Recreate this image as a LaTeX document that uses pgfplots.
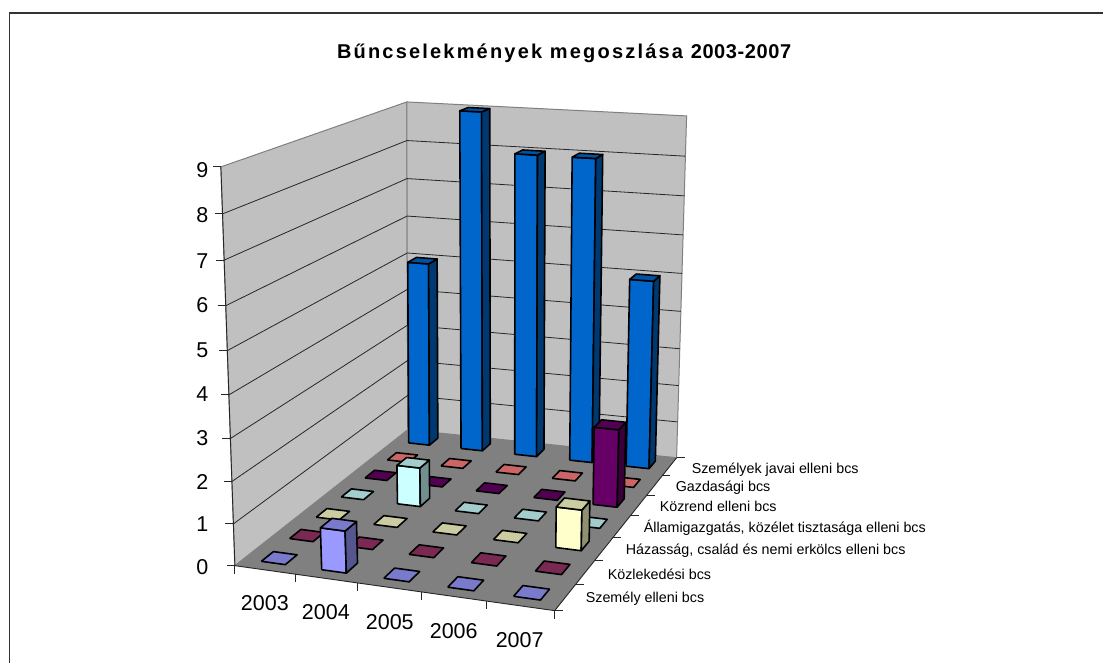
\documentclass[border=0pt]{standalone}
\usepackage{pgfplots}
\pgfplotsset{compat=1.18}
\usepackage{fontspec}
\setmainfont{Liberation Sans}
\definecolor{wall}{HTML}{C0C0C0}
\definecolor{floorc}{HTML}{808080}
% front, top and side colours of the seven series
\definecolor{aF}{HTML}{9999FF}\definecolor{aT}{HTML}{7A7ACC}\definecolor{aS}{HTML}{55558F}
\definecolor{bF}{HTML}{993366}\definecolor{bT}{HTML}{7A2952}\definecolor{bS}{HTML}{551C39}
\definecolor{cF}{HTML}{FFFFCC}\definecolor{cT}{HTML}{CCCCA3}\definecolor{cS}{HTML}{8F8F72}
\definecolor{dF}{HTML}{CCFFFF}\definecolor{dT}{HTML}{A3CCCC}\definecolor{dS}{HTML}{728F8F}
\definecolor{eF}{HTML}{660066}\definecolor{eT}{HTML}{520052}\definecolor{eS}{HTML}{390039}
\definecolor{fF}{HTML}{FF8080}\definecolor{fT}{HTML}{CC6666}\definecolor{fS}{HTML}{8F4848}
\definecolor{gF}{HTML}{0066CC}\definecolor{gT}{HTML}{0052A3}\definecolor{gS}{HTML}{003972}
\pgfplotsset{
  /pgf/declare function={
    fw(\u,\v)=1-0.07056*\u+0.22159*\v;
    fx(\u,\v)=(280.84*\u+263.41*\v+235)/fw(\u,\v);
    fy(\u,\v)=(1.89*\u-40.72*\v+566)/fw(\u,\v);
    tw(\u,\v)=1-0.12947*\u+0.26944*\v;
    tx(\u,\v)=(266.50*\u+295.66*\v+221)/tw(\u,\v);
    ty(\u,\v)=(2.75*\u-37.52*\v+167)/tw(\u,\v);
    zf(\z)=(\z/9)/(1.068-0.068*\z/9);
    PX(\c,\r,\z)=fx(\c/5,\r/7)+(tx(\c/5,\r/7)-fx(\c/5,\r/7))*zf(\z);
    PY(\c,\r,\z)=fy(\c/5,\r/7)+(ty(\c/5,\r/7)-fy(\c/5,\r/7))*zf(\z);
  }
}
% a face given in the chart's own coordinates: year slot, series slot, value
\newcommand\chartpoly[2]{\addplot[#1] table[row sep=\\,
   x expr={PX(\thisrow{c},\thisrow{r},\thisrow{z})+\thisrow{dx}},
   y expr={PY(\thisrow{c},\thisrow{r},\thisrow{z})+\thisrow{dy}}] {c r z dx dy\\#2};}
\newcommand\barface[5]{\addplot[fill=#4,draw=black,line width=1.6pt,line join=round] table[row sep=\\,
   x expr={PX(#1+0.30+0.40*\thisrow{a},#2+0.29+0.42*\thisrow{b},#3*\thisrow{h})},
   y expr={PY(#1+0.30+0.40*\thisrow{a},#2+0.29+0.42*\thisrow{b},#3*\thisrow{h})}] {a b h\\#5};}
% col, row, value, series letter
\newcommand\barcell[4]{%
  \ifdim #3pt>0pt
    \barface{#1}{#2}{#3}{#4F}{0 0 0\\1 0 0\\1 0 1\\0 0 1\\0 0 0\\}%
    \barface{#1}{#2}{#3}{#4S}{1 0 0\\1 1 0\\1 1 1\\1 0 1\\1 0 0\\}%
  \fi
  \barface{#1}{#2}{#3}{#4T}{0 0 1\\1 0 1\\1 1 1\\0 1 1\\0 0 1\\}%
}
\newcommand\rlabel[3]{\node[font=\fontsize{14.3}{16}\selectfont,anchor=west,inner sep=0pt] at (axis cs:#1,#2) {#3};}
\newcommand\ylabel[3]{\node[font=\fontsize{21.5}{24}\selectfont] at (axis cs:#1,#2) {#3};}
\begin{document}
\begin{tikzpicture}
\begin{axis}[
  width=1104pt,height=663pt,scale only axis,
  xmin=0,xmax=1104,ymin=0,ymax=663,y dir=reverse,
  hide axis,clip=false,no markers,
  every axis plot/.append style={forget plot},
]
\path (axis cs:0,0) rectangle (axis cs:1104,663);
% frame lines
\addplot[draw=black!80,line width=1.3pt] coordinates {(9.5,663) (9.5,13) (1104,13)};
% walls and floor
\chartpoly{fill=wall,draw=floorc,line width=1pt}{0 0 9 0 0\\0 7 9 0 0\\0 7 0 0 0\\0 0 0 0 0\\0 0 9 0 0\\}
\chartpoly{fill=wall,draw=floorc,line width=1pt}{0 7 9 0 0\\5 7 9 0 0\\5 7 0 0 0\\0 7 0 0 0\\0 7 9 0 0\\}
\chartpoly{fill=floorc,draw=none}{0 0 0 0 0\\5 0 0 0 0\\5 7 0 0 0\\0 7 0 0 0\\0 0 0 0 0\\}
% grid lines
\pgfplotsinvokeforeach{1,...,8}{
  \chartpoly{draw=black!85,line width=0.8pt}{0 0 #1 0 0\\0 7 #1 0 0\\5 7 #1 0 0\\}
}
% axis lines and ticks
\chartpoly{draw=black!85,line width=0.9pt}{0 0 9 0 0\\0 0 0 0 0\\5 0 0 0 0\\5 7 0 0 0\\}
\pgfplotsinvokeforeach{0,...,9}{
  \chartpoly{draw=black!85,line width=0.9pt}{0 0 #1 -8 0\\0 0 #1 0 0\\}
}
\pgfplotsinvokeforeach{0,...,5}{
  \chartpoly{draw=black!85,line width=0.9pt}{#1 0 0 0 0\\#1 0 0 0 8\\}
}
\pgfplotsinvokeforeach{0,...,7}{
  \chartpoly{draw=black!85,line width=0.9pt}{5 #1 0 0 0\\5 #1 0 8 0\\}
}
% bars, farthest first: slot of the year, slot of the series, value, series
\barcell{0}{6}{5}{g}\barcell{1}{6}{9}{g}\barcell{2}{6}{8}{g}\barcell{3}{6}{8}{g}\barcell{4}{6}{5}{g}
\barcell{0}{5}{0}{f}\barcell{1}{5}{0}{f}\barcell{2}{5}{0}{f}\barcell{3}{5}{0}{f}\barcell{4}{5}{0}{f}
\barcell{0}{4}{0}{e}\barcell{1}{4}{0}{e}\barcell{2}{4}{0}{e}\barcell{3}{4}{0}{e}\barcell{4}{4}{2}{e}
\barcell{0}{3}{0}{d}\barcell{1}{3}{1}{d}\barcell{2}{3}{0}{d}\barcell{3}{3}{0}{d}\barcell{4}{3}{0}{d}
\barcell{0}{2}{0}{c}\barcell{1}{2}{0}{c}\barcell{2}{2}{0}{c}\barcell{3}{2}{0}{c}\barcell{4}{2}{1}{c}
\barcell{0}{1}{0}{b}\barcell{1}{1}{0}{b}\barcell{2}{1}{0}{b}\barcell{3}{1}{0}{b}\barcell{4}{1}{0}{b}
\barcell{0}{0}{0}{a}\barcell{1}{0}{1}{a}\barcell{2}{0}{0}{a}\barcell{3}{0}{0}{a}\barcell{4}{0}{0}{a}
% texts
\node[font=\fontsize{20}{24}\selectfont\bfseries,anchor=west,inner sep=0pt] at (axis cs:337,53) {\addfontfeature{LetterSpace=11}Bűncselekmények megoszlása \addfontfeature{LetterSpace=3}2003-2007};
\foreach \v/\y in {0/567,1/524,2/482,3/438,4/394,5/350,6/305,7/261,8/215,9/170}{
  \edef\temp{\noexpand\node[font=\noexpand\fontsize{21.5}{24}\noexpand\selectfont,anchor=east] at (axis cs:212,\y) {\v};}\temp
}
\ylabel{265}{603}{2003}
\ylabel{326}{612}{2004}
\ylabel{390}{622}{2005}
\ylabel{454}{631}{2006}
\ylabel{520}{640}{2007}
\rlabel{692}{470}{Személyek javai elleni bcs}
\rlabel{676}{488}{Gazdasági bcs}
\rlabel{660}{507}{Közrend elleni bcs}
\rlabel{644}{528}{Államigazgatás, közélet tisztasága elleni bcs}
\rlabel{626}{551}{Házasság, család és nemi erkölcs elleni bcs}
\rlabel{608}{575}{Közlekedési bcs}
\rlabel{586}{599}{Személy elleni bcs}
\end{axis}
\end{tikzpicture}
\end{document}
